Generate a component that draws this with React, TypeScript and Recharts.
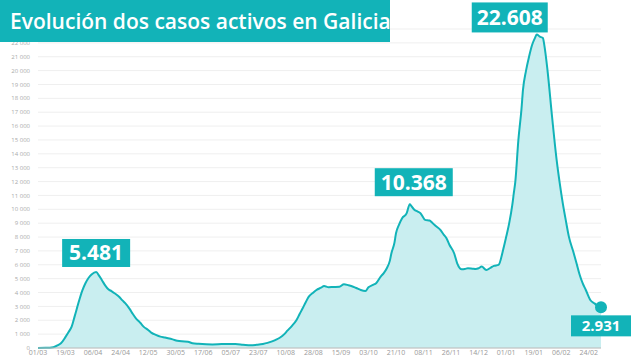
import { Area, AreaChart, CartesianGrid, ReferenceDot, XAxis, YAxis } from 'recharts';

// days since 01/03/2020 and active cases
const days = [
  0, 5, 10, 13, 15, 18, 20, 22, 24, 27, 29, 31, 33, 35, 38, 40, 42, 44, 46, 48, 50, 53, 55, 57, 60,
  62, 64, 67, 69, 72, 74, 77, 80, 83, 85, 88, 91, 94, 98, 101, 105, 110, 114, 120, 125, 129, 134,
  139, 143, 147, 150, 153, 156, 158, 161, 163, 166, 169, 171, 173, 175, 177, 180, 182, 185, 187,
  190, 193, 197, 200, 203, 206, 209, 211, 214, 216, 219, 221, 224, 226, 228, 230, 231, 233, 234,
  236, 238, 241, 243, 244, 246, 248, 250, 253, 256, 258, 260, 263, 265, 267, 269, 272, 274, 277,
  279, 281, 284, 286, 288, 290, 293, 296, 298, 301, 304, 306, 308, 310, 311, 312, 314, 316, 317,
  319, 321, 323, 325, 326, 328, 330, 331, 333, 336, 339, 341, 343, 345, 347, 350, 352, 354, 356,
  358, 361, 364, 366, 368,
];
const activos = [
  1, 10, 60, 200, 340, 800, 1150, 1540, 2300, 3460, 4150, 4670, 5050, 5300, 5481, 5200, 4850, 4500,
  4230, 4100, 3950, 3700, 3450, 3230, 2800, 2450, 2140, 1800, 1540, 1300, 1110, 950, 820, 750, 700,
  620, 530, 480, 450, 340, 300, 270, 260, 280, 290, 290, 240, 190, 230, 290, 370, 480, 620, 740,
  1000, 1250, 1600, 2020, 2450, 2860, 3300, 3700, 4000, 4180, 4350, 4470, 4380, 4400, 4420, 4600,
  4520, 4420, 4280, 4180, 4110, 4380, 4550, 4670, 5150, 5400, 5750, 6300, 6830, 7600, 8270, 8900,
  9360, 9720, 10368, 10250, 9960, 9850, 9720, 9240, 9190, 9000, 8800, 8510, 8200, 7910, 7430, 6830,
  6110, 5680, 5700, 5750, 5720, 5700, 5750, 5870, 5630, 5800, 5920, 5990, 7070, 8000, 9000, 10300,
  11160, 12000, 15010, 17200, 18610, 20000, 21020, 21860, 22400, 22608, 22450, 22350, 21800, 20060,
  16690, 13560, 11900, 10440, 9200, 8030, 6900, 6110, 5300, 4670, 4200, 3460, 3200, 3000, 2931,
];

const xTicks = [0, 18, 36, 54, 72, 90, 108, 126, 144, 162, 180, 198, 216, 234, 252, 270, 288, 306, 324, 342, 360];
const xLabels = [
  '01/03', '19/03', '06/04', '24/04', '12/05', '30/05', '17/06', '05/07', '23/07', '10/08', '28/08',
  '15/09', '03/10', '21/10', '08/11', '26/11', '14/12', '01/01', '19/01', '06/02', '24/02',
];
const yTicks = [
  0, 1000, 2000, 3000, 4000, 5000, 6000, 7000, 8000, 9000, 10000, 11000, 12000, 13000, 14000, 15000,
  16000, 17000, 18000, 19000, 20000, 21000, 22000,
];

// highlighted values: [day, value, label]
const highlights: [number, number, string][] = [
  [38, 5481, '5.481'],
  [243, 10368, '10.368'],
  [326, 22608, '22.608'],
];
const lastDay = 368;
const lastValue = 2931;
const lastLabel = '2.931';

const data = days.map((d, i) => ({ d, v: activos[i] }));

const TEAL = '#12b3b8';
const FONT = '"Open Sans", sans-serif';

// non-breaking space so the tick text does not wrap
const fmtY = (v: number) => String(v).replace(/\B(?=(\d{3})+(?!\d))/g, '\u00a0');
const fmtX = (v: number) => xLabels[xTicks.indexOf(v)] ?? '';

// label box offsets per highlight (dx = centre shift, w = width)
const boxes = [
  { dx: 0, w: 68, h: 28, gap: 5, size: 21 },
  { dx: 4, w: 78, h: 28, gap: 8, size: 21 },
  { dx: -27, w: 76, h: 30, gap: 2, size: 21 },
];

function PeakBox(props: any, i: number, text: string) {
  const { cx, cy } = props;
  const b = boxes[i];
  const x = cx + b.dx - b.w / 2;
  const y = cy - b.gap - b.h;
  return (
    <g>
      <rect x={x} y={y} width={b.w} height={b.h} fill={TEAL} />
      <text
        x={x + b.w / 2}
        y={y + b.h / 2 + 7.5}
        textAnchor="middle"
        fill="#fff"
        fontFamily={FONT}
        fontWeight={700}
        fontSize={b.size}
      >
        {text}
      </text>
    </g>
  );
}

function LastDot(props: any) {
  const { cx, cy } = props;
  return (
    <g>
      <circle cx={cx} cy={cy} r={6} fill={TEAL} />
      <rect x={cx - 30} y={cy + 8} width={60} height={21} fill={TEAL} />
      <text
        x={cx}
        y={cy + 24}
        textAnchor="middle"
        fill="#fff"
        fontFamily={FONT}
        fontWeight={700}
        fontSize={15}
      >
        {lastLabel}
      </text>
    </g>
  );
}

export default function App() {
  return (
    <div style={{ position: 'absolute', left: 0, top: 0, width: 640, height: 360, background: '#fff' }}>
      <AreaChart
        width={640}
        height={360}
        data={data}
        margin={{ top: 29, right: 39, left: 6, bottom: 0 }}
      >
        <CartesianGrid vertical={false} stroke="#efefef" />
        <XAxis
          dataKey="d"
          type="number"
          domain={[0, lastDay]}
          ticks={xTicks}
          tickFormatter={fmtX}
          tickLine={false}
          tickSize={0}
          axisLine={{ stroke: '#bbb' }}
          tick={{ fill: '#999', fontSize: 7, fontFamily: FONT }}
          tickMargin={2}
          height={12}
          interval={0}
        />
        <YAxis
          type="number"
          domain={[0, 23000]}
          ticks={yTicks}
          tickFormatter={fmtY}
          tickLine={false}
          axisLine={false}
          tick={{ fill: '#aaa', fontSize: 6, fontFamily: FONT }}
          width={32}
          interval={0}
        />
        <Area
          type="monotone"
          dataKey="v"
          stroke={TEAL}
          strokeWidth={2}
          fill="#c9eef0"
          fillOpacity={1}
          dot={false}
          activeDot={false}
          isAnimationActive={false}
        />
        {highlights.map(([d, v, t], i) => (
          <ReferenceDot key={t} x={d} y={v} r={0} shape={(p: any) => PeakBox(p, i, t)} />
        ))}
        <ReferenceDot x={lastDay} y={lastValue} r={6} shape={LastDot} />
      </AreaChart>
      <div
        style={{
          position: 'absolute',
          left: 0,
          top: 0,
          width: 390,
          height: 42,
          background: TEAL,
          color: '#fff',
          fontFamily: FONT,
          fontWeight: 600,
          fontSize: 21,
          lineHeight: '42px',
          paddingLeft: 10,
          boxSizing: 'border-box',
          whiteSpace: 'nowrap',
        }}
      >
        Evolución dos casos activos en Galicia
      </div>
    </div>
  );
}
